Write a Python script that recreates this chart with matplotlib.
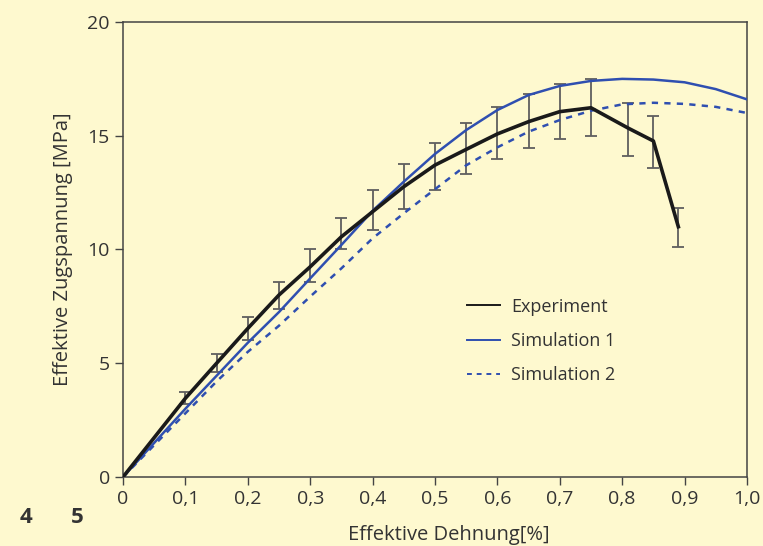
import matplotlib
matplotlib.use("Agg")
import matplotlib.pyplot as plt
from matplotlib.ticker import FuncFormatter

# Experiment (mean with min/max error bars)
exp_x = [0, 0.1, 0.15, 0.2, 0.25, 0.3, 0.35, 0.4, 0.45, 0.5, 0.55, 0.6,
         0.65, 0.7, 0.75, 0.81, 0.85, 0.89]
exp_y = [0, 3.46, 5.0, 6.53, 8.0, 9.24, 10.56, 11.66, 12.76, 13.71, 14.4,
         15.08, 15.62, 16.06, 16.23, 15.33, 14.77, 11.0]
exp_hi = [0, 3.75, 5.39, 7.02, 8.59, 10.01, 11.37, 12.62, 13.76, 14.7, 15.58,
          16.28, 16.82, 17.27, 17.49, 16.43, 15.87, 11.81]
exp_lo = [0, 3.21, 4.63, 6.02, 7.37, 8.59, 10.0, 10.86, 11.78, 12.63, 13.32,
          13.98, 14.48, 14.86, 14.99, 14.1, 13.6, 10.12]

# Simulations
sim_x = [0, 0.05, 0.1, 0.15, 0.2, 0.25, 0.3, 0.35, 0.4, 0.45, 0.5, 0.55,
         0.6, 0.65, 0.7, 0.75, 0.8, 0.85, 0.9, 0.95, 1.0]
sim1 = [0, 1.5, 3.0, 4.45, 5.9, 7.25, 8.73, 10.2, 11.7, 12.98, 14.2, 15.25,
        16.13, 16.79, 17.19, 17.41, 17.5, 17.47, 17.35, 17.05, 16.6]
sim2 = [0, 1.4, 2.8, 4.2, 5.5, 6.65, 7.93, 9.17, 10.49, 11.59, 12.65, 13.7,
        14.49, 15.18, 15.69, 16.1, 16.38, 16.45, 16.4, 16.27, 16.0]

BG = "#fef9cf"
TXT = "#333333"
BLUE = "#2f4fb0"

plt.rcParams["font.family"] = ["Open Sans", "DejaVu Sans"]

fig = plt.figure(figsize=(7.63, 5.46), dpi=100, facecolor=BG)
ax = fig.add_axes([0.1612, 0.1264, 0.8178, 0.8333], facecolor=BG)

# error bars first so the lines sit on top
yerr = [[y - lo for y, lo in zip(exp_y[1:], exp_lo[1:])],
        [hi - y for y, hi in zip(exp_y[1:], exp_hi[1:])]]
ax.errorbar(exp_x[1:], exp_y[1:], yerr=yerr, fmt="none", ecolor="#5f5f5f",
            elinewidth=1.3, capsize=4, capthick=1.3, zorder=2)

ax.plot(sim_x, sim1, color=BLUE, lw=1.8, label="Simulation 1", zorder=3)
ax.plot(sim_x, sim2, color=BLUE, lw=1.8, ls=(0, (2.5, 2.5)),
        label="Simulation 2", zorder=3)
ax.plot(exp_x, exp_y, color="#1a1a1a", lw=2.6, label="Experiment", zorder=4)

ax.set_xlim(0, 1.0)
ax.set_ylim(0, 20)
ax.set_xticks([i / 10 for i in range(11)])
ax.set_yticks([0, 5, 10, 15, 20])
ax.xaxis.set_major_formatter(FuncFormatter(
    lambda v, p: "0" if v == 0 else f"{v:.1f}".replace(".", ",")))
ax.tick_params(direction="out", length=6, width=1, color="#444444",
               labelsize=14, labelcolor=TXT, pad=3.5)
for s in ax.spines.values():
    s.set_color("#444444")
    s.set_linewidth(1.1)

ax.set_xlabel("Effektive Dehnung[%]", fontsize=14.5, color=TXT, labelpad=12,
              x=0.522)
ax.set_ylabel("Effektive Zugspannung [MPa]", fontsize=14.5, color=TXT,
              labelpad=10)

h, l = ax.get_legend_handles_labels()
order = [2, 0, 1]
leg = ax.legend([h[i] for i in order], [l[i] for i in order],
                loc="center left", bbox_to_anchor=(0.551, 0.299),
                frameon=False, fontsize=13, handlelength=1.85,
                handletextpad=0.6, labelspacing=0.9, borderpad=0,
                borderaxespad=0, labelcolor=TXT)
for ln in leg.get_lines():
    ln.set_linewidth(1.4)

fig.text(0.026, 0.043, "4", fontsize=16, fontweight="bold", color=TXT)
fig.text(0.093, 0.043, "5", fontsize=16, fontweight="bold", color=TXT)

fig.savefig("out.png", dpi=100, facecolor=BG)
